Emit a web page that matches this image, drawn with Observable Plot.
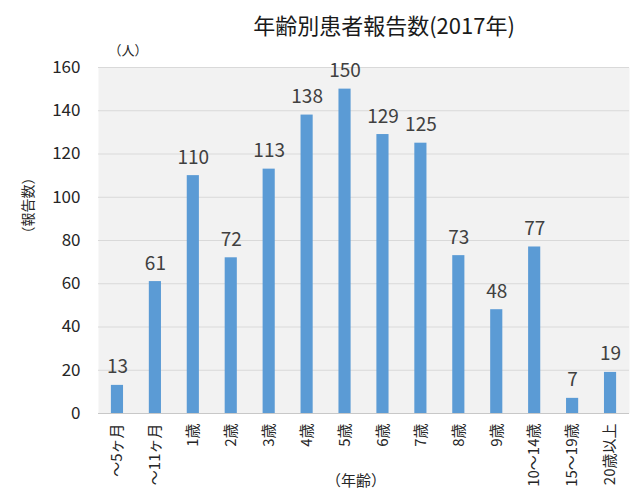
<!DOCTYPE html>
<html>
<head>
<meta charset="utf-8">
<script src="https://cdn.jsdelivr.net/npm/d3@7"></script>
<script src="https://cdn.jsdelivr.net/npm/@observablehq/plot@0.6"></script>
<style>
  html, body { margin: 0; padding: 0; background: #fff; }
  #chart svg { display: block; }
</style>
</head>
<body>
<div id="chart"></div>
<script>
const categories = ["～5ヶ月", "～11ヶ月", "1歳", "2歳", "3歳", "4歳", "5歳", "6歳", "7歳", "8歳", "9歳", "10～14歳", "15～19歳", "20歳以上"];
const counts = [13, 61, 110, 72, 113, 138, 150, 129, 125, 73, 48, 77, 7, 19];
const yTicks = [0, 20, 40, 60, 80, 100, 120, 140, 160];
const titleText = "年齢別患者報告数(2017年)";
const yUnit = "（人）";
const yLabel = "（報告数）";
const xLabel = "（年齢）";

const data = categories.map((c, i) => ({ age: c, n: counts[i] }));
const font = "'Noto Sans CJK JP', 'Noto Sans', sans-serif";

const chart = Plot.plot({
  width: 638,
  height: 502,
  marginTop: 67,
  marginBottom: 89,
  marginLeft: 98,
  marginRight: 9,
  style: { fontFamily: font, fontSize: "15px", color: "#404040", background: "#fff" },
  x: { domain: categories, paddingInner: 0.68, paddingOuter: 0.34, round: false, label: null },
  y: { domain: [0, 160], label: null },
  marks: [
    Plot.frame({ fill: "#f2f2f2", stroke: null }),
    Plot.gridY(yTicks, { stroke: "#d9d9d9", strokeOpacity: 1, strokeWidth: 1.2 }),
    Plot.ruleY([0], { stroke: "#c8c8c8", strokeWidth: 1.2 }),
    Plot.barY(data, { x: "age", y: "n", fill: "#5b9bd5" }),
    Plot.text(data, { x: "age", y: "n", text: d => String(d.n), lineAnchor: "bottom", dy: -12, fontSize: 19, fill: "#404040" }),
    Plot.axisY(yTicks, { tickSize: 0, tickPadding: 18, fontSize: 17, fill: "#262626", label: null }),
    Plot.axisX({ tickSize: 0, tickPadding: 10, tickRotate: -90, fontSize: 15, fill: "#262626", label: null }),
    Plot.text([titleText], { frameAnchor: "top", dy: -49, dx: 20, fontSize: 22, fill: "#1a1a1a" }),
    Plot.text([yUnit], { frameAnchor: "top-left", dx: 10, dy: -22, fontSize: 13, fill: "#262626", textAnchor: "start" }),
    Plot.text([yLabel], { frameAnchor: "left", dx: -70, dy: 0, rotate: -90, fontSize: 14, fill: "#262626" }),
    Plot.text([xLabel], { frameAnchor: "bottom", dy: 72, dx: -8, fontSize: 15, fill: "#262626" })
  ]
});
document.getElementById("chart").appendChild(chart);
</script>
</body>
</html>
